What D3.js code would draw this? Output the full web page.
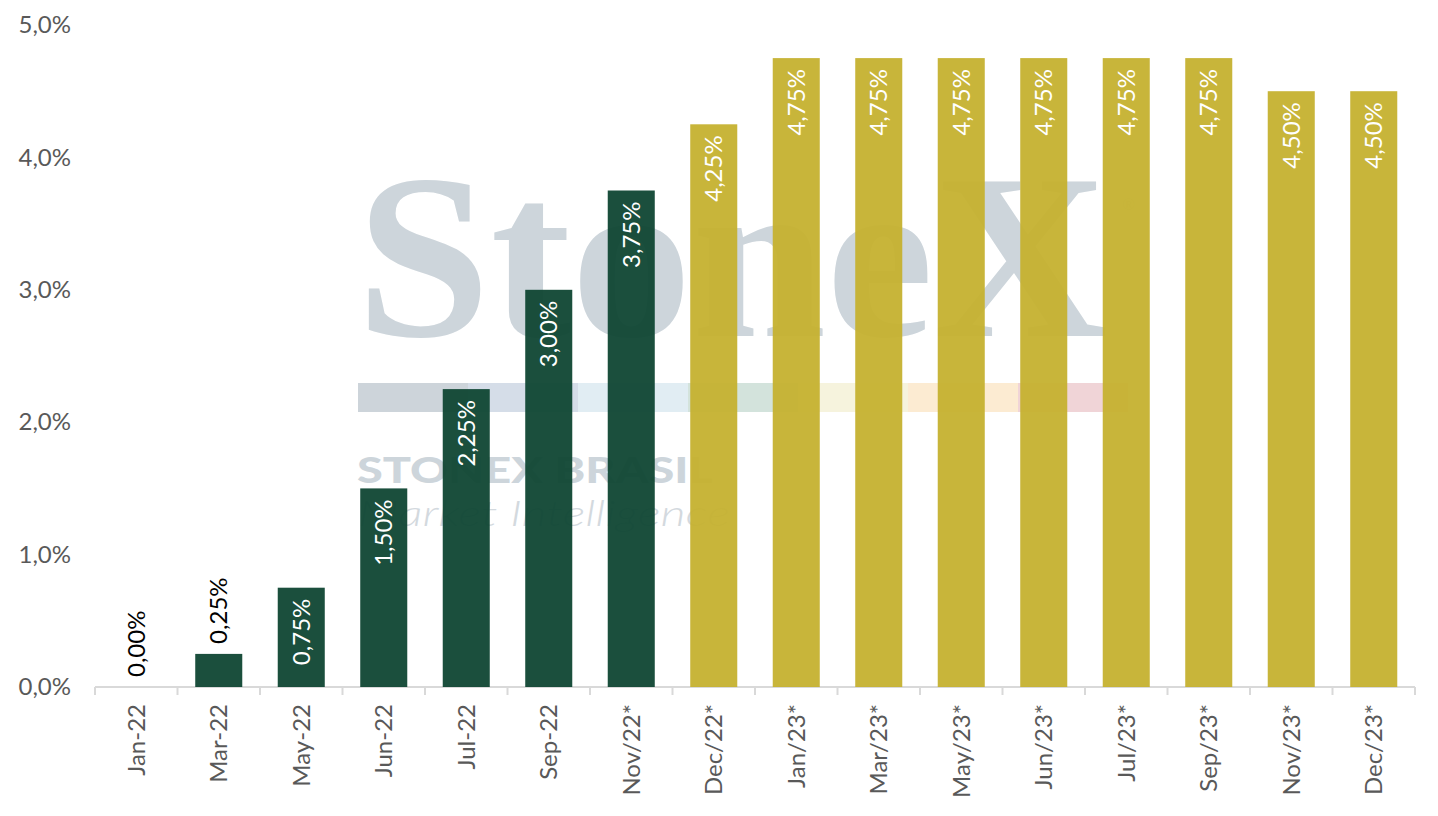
<!DOCTYPE html>
<html>
<head>
<script src="https://cdn.jsdelivr.net/npm/d3@7"></script>
<meta charset="utf-8">
<style>
body {
  margin: 0;
  background: #fff;
}
svg text { font-family: Lato, "Noto Sans", sans-serif; }
.axis text { fill: #595959; font-size: 24px; font-family: Lato, "Noto Sans", sans-serif; }
.axis path, .axis line { stroke: #d9d9d9; stroke-width: 2; }
</style>
</head>
<body>
<div class="chart"></div>
<script>

// dados
var months = ["Jan-22", "Mar-22", "May-22", "Jun-22", "Jul-22", "Sep-22", "Nov/22*", "Dec/22*",
              "Jan/23*", "Mar/23*", "May/23*", "Jun/23*", "Jul/23*", "Sep/23*", "Nov/23*", "Dec/23*"];
var rates = [0.00, 0.25, 0.75, 1.50, 2.25, 3.00, 3.75, 4.25,
             4.75, 4.75, 4.75, 4.75, 4.75, 4.75, 4.50, 4.50];
var projected = [false, false, false, false, false, false, false, true,
                 true, true, true, true, true, true, true, true];
var yTicks = [0, 1, 2, 3, 4, 5];
var stripeColors = ["#cdd4da", "#d5dde8", "#e1edf3", "#d3e3dc", "#f6f3dd", "#fcebd2", "#f0d4d7"];

var width = 1438,
    height = 816;

var svg = d3.select(".chart").append("svg")
  .attr("width", width)
  .attr("height", height);

var x = d3.scaleBand()
  .domain(months)
  .range([95, 1415])
  .paddingInner(0.43)
  .paddingOuter(0.215);

var y = d3.scaleLinear()
  .domain([0, 5])
  .range([687, 25]);

var fmt = function(v, n) { return d3.format("." + n + "f")(v).replace(".", ",") + "%"; };

// marca d'agua
var wm = svg.append("g");
wm.append("text")
  .attr("x", 356).attr("y", 336)
  .attr("textLength", 752)
  .attr("lengthAdjust", "spacingAndGlyphs")
  .style("font-family", "'Liberation Serif', serif")
  .style("font-weight", "bold")
  .style("font-size", "236px")
  .style("fill", "#cdd5db")
  .text("StoneX");
wm.append("text")
  .attr("x", 1122).attr("y", 210)
  .style("font-size", "16px")
  .style("fill", "#dde2e6")
  .text("®");
wm.selectAll("rect").data(stripeColors).enter().append("rect")
  .attr("x", function(d, i) { return 358 + i * 110; })
  .attr("y", 383)
  .attr("width", 110)
  .attr("height", 29)
  .style("fill", function(d) { return d; });
wm.append("text")
  .attr("x", 357).attr("y", 483)
  .attr("textLength", 356)
  .attr("lengthAdjust", "spacingAndGlyphs")
  .style("font-size", "36px")
  .style("font-weight", "900")
  .style("fill", "#cdd5db")
  .text("STONEX BRASIL");
wm.append("text")
  .attr("x", 358).attr("y", 526)
  .attr("textLength", 372)
  .attr("lengthAdjust", "spacingAndGlyphs")
  .style("font-size", "36px")
  .style("font-style", "italic")
  .style("font-weight", "300")
  .style("fill", "#d3d9de")
  .text("Market Intelligence");

// eixo y
var yAxis = svg.append("g")
  .attr("class", "axis")
  .attr("transform", "translate(71,0)")
  .call(d3.axisLeft(y).tickValues(yTicks).tickSize(0).tickPadding(0)
    .tickFormat(function(d) { return fmt(d, 1); }));
yAxis.select(".domain").remove();

// eixo x
var xAxis = svg.append("g")
  .attr("class", "axis")
  .attr("transform", "translate(0,687)")
  .call(d3.axisBottom(x).tickSize(0).tickSizeOuter(0));
xAxis.select(".domain").attr("d", "M95,0H1415");
xAxis.selectAll(".tick text")
  .attr("transform", "translate(0,17) rotate(-90)")
  .attr("x", 0).attr("y", 0)
  .attr("dy", "0.35em")
  .style("text-anchor", "end");

// divisores
var bounds = d3.range(months.length + 1).map(function(i) {
  return i < months.length ? x(months[i]) - x.step() * x.paddingInner() / 2 : 1415;
});
svg.selectAll(".sep").data(bounds).enter().append("line")
  .attr("class", "sep")
  .attr("x1", function(d) { return d; })
  .attr("x2", function(d) { return d; })
  .attr("y1", 687).attr("y2", 695)
  .style("stroke", "#d9d9d9")
  .style("stroke-width", 2);

// barras
svg.selectAll(".bar").data(rates).enter().append("rect")
  .attr("class", "bar")
  .attr("x", function(d, i) { return x(months[i]); })
  .attr("y", function(d) { return y(d); })
  .attr("width", x.bandwidth())
  .attr("height", function(d) { return y(0) - y(d); })
  .style("fill", function(d, i) { return projected[i] ? "#c5b12f" : "#0f4633"; })
  .style("opacity", 0.95);

// rotulos
svg.selectAll(".lbl").data(rates).enter().append("text")
  .attr("class", "lbl")
  .attr("transform", function(d, i) {
    var cx = x(months[i]) + x.bandwidth() / 2;
    var ty = d < 0.5 ? y(d) - 10 : y(d) + 11;
    return "translate(" + cx + "," + ty + ") rotate(-90)";
  })
  .attr("dy", "0.35em")
  .style("text-anchor", function(d) { return d < 0.5 ? "start" : "end"; })
  .style("font-size", "24px")
  .style("fill", function(d) { return d < 0.5 ? "#000" : "#fff"; })
  .text(function(d) { return fmt(d, 2); });

</script>
</body>
</html>
